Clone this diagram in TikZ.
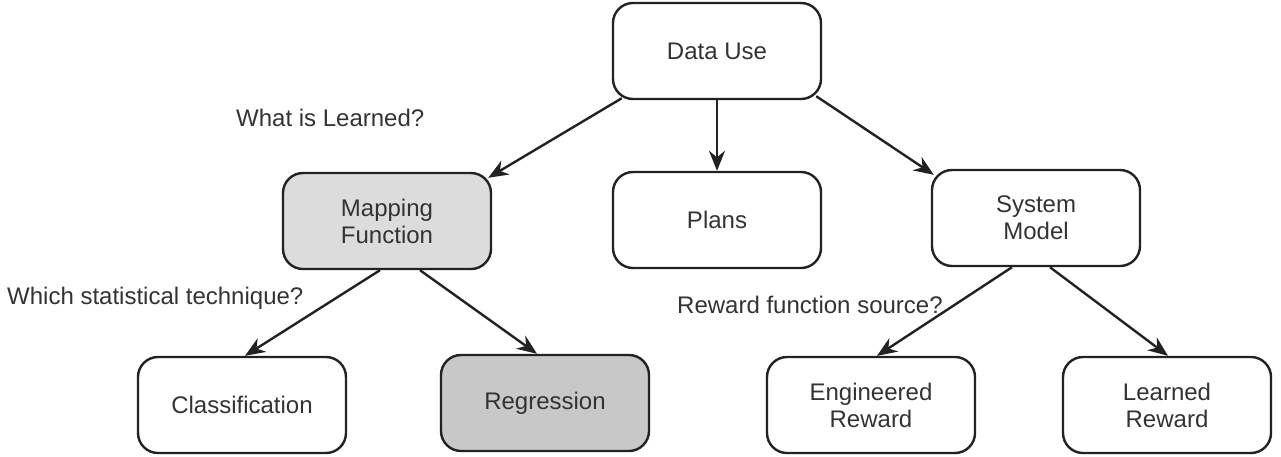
\documentclass[tikz,border=0pt]{standalone}
\usepackage{fontspec}
\setmainfont{Liberation Sans}
\usetikzlibrary{arrows.meta,calc}
\definecolor{txt}{HTML}{333333}
\definecolor{edge}{HTML}{222222}
\definecolor{lightfill}{HTML}{DCDCDC}
\definecolor{darkfill}{HTML}{C8C8C8}
\begin{document}
\begin{tikzpicture}[x=1pt,y=-1pt,
  box/.style={draw=edge,line width=2.4pt,rounded corners=20pt,minimum width=208pt,minimum height=96pt,align=center,text=txt,font=\fontsize{24}{27}\selectfont,inner sep=0pt},
  lbl/.style={text=txt,font=\fontsize{24}{27}\selectfont,inner sep=0pt,anchor=west},
  arr/.style={draw=edge,line width=2.4pt,-{Stealth[length=20pt,width=16pt]}}]
\useasboundingbox (0,0) rectangle (1281,456);
\node[box] (du) at (717,51) {Data Use};
\node[box,fill=lightfill] (mf) at (387,221) {Mapping\\Function};
\node[box] (pl) at (717,220) {Plans};
\node[box] (sm) at (1036,218) {System\\Model};
\node[box] (cl) at (242,405) {Classification};
\node[box,fill=darkfill] (rg) at (545,403) {Regression};
\node[box] (er) at (871,405) {Engineered\\Reward};
\node[box] (lr) at (1167,405) {Learned\\Reward};
\node[lbl] (q1) at (236,118) {What is Learned?};
\node[lbl] (q2) at (7,298) {Which statistical technique?};
\node[lbl] (q3) at (677,305) {Reward function source?};
\coordinate (a1s) at ($(du.south west)+(10,-2)$);
\coordinate (a1e) at ($(mf.north east)+(-4,6)$);
\coordinate (a3s) at ($(du.south east)+(-6,-4)$);
\coordinate (a3e) at ($(sm.north west)+(3,6)$);
\draw[arr] (a1s) -- (a1e);
\draw[arr] (du.south) -- (pl.north);
\draw[arr] (a3s) -- (a3e);
\draw[arr] ($(mf.south)+(-7,0)$) -- ($(cl.north)+(3,0)$);
\draw[arr] ($(mf.south)+(33,0)$) -- ($(rg.north)+(-8,0)$);
\draw[arr] ($(sm.south)+(-24,0)$) -- ($(er.north)+(6,0)$);
\draw[arr] ($(sm.south)+(14,0)$) -- ($(lr.north)+(1,0)$);
\end{tikzpicture}
\end{document}
